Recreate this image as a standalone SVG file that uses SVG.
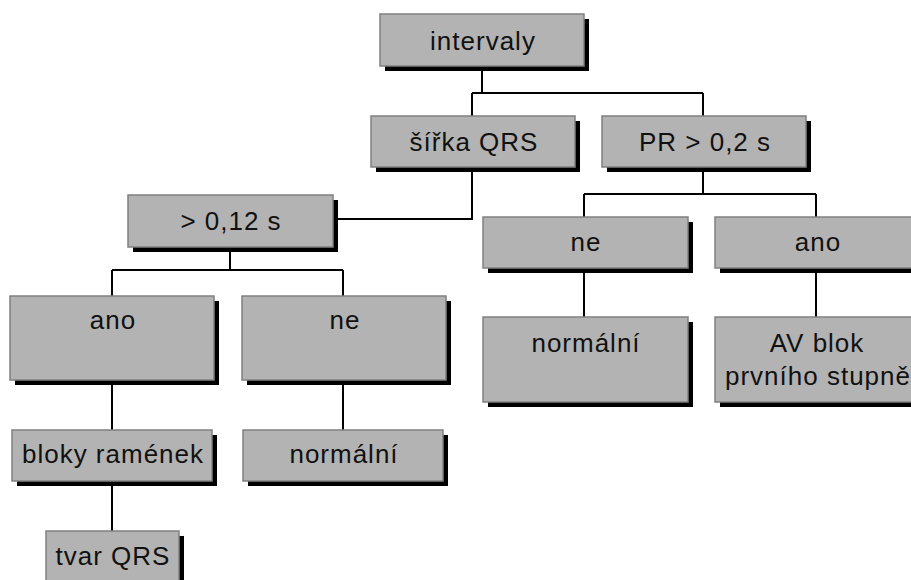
<svg xmlns="http://www.w3.org/2000/svg" width="911" height="580" viewBox="0 0 911 580">
<style>
.sh{fill:#000}
.bx{fill:#b3b3b3;stroke:#808080;stroke-width:1.5}
.t{font-family:"Liberation Sans",Arial,sans-serif;font-size:26px;letter-spacing:1px;fill:#111;text-anchor:middle}
.c{fill:none;stroke:#000;stroke-width:2}
</style>
<rect width="911" height="580" fill="#fff"/>
<g id="connectors">
<path class="c" d="M482 66V93M472 93H703M472 93V116M703 93V116"/>
<path class="c" d="M472 167V219H337"/>
<path class="c" d="M703 167V194M584 194H816M584 194V217M816 194V217"/>
<path class="c" d="M584 268V317M816 268V317"/>
<path class="c" d="M230 247V270M112 270H343M112 270V296M343 270V296"/>
<path class="c" d="M112 380V430M343 380V430M112 481V531"/>
</g>
<g id="n-intervaly"><rect class="sh" x="385" y="19" width="204" height="52"/><rect class="bx" x="380" y="14" width="204" height="52"/><text class="t" x="483" y="50">intervaly</text></g>
<g id="n-sirka"><rect class="sh" x="376" y="121" width="204" height="51"/><rect class="bx" x="371" y="116" width="204" height="51"/><text class="t" x="474" y="151">šířka QRS</text></g>
<g id="n-pr"><rect class="sh" x="607" y="121" width="204" height="51"/><rect class="bx" x="602" y="116" width="204" height="51"/><text class="t" x="705" y="151">PR &gt; 0,2 s</text></g>
<g id="n-012"><rect class="sh" x="133" y="200" width="205" height="52"/><rect class="bx" x="128" y="195" width="205" height="52"/><text class="t" x="231" y="230">&gt; 0,12 s</text></g>
<g id="n-ne-r"><rect class="sh" x="488" y="222" width="205" height="51"/><rect class="bx" x="483" y="217" width="205" height="51"/><text class="t" x="586" y="251">ne</text></g>
<g id="n-ano-r"><rect class="sh" x="720" y="222" width="205" height="51"/><rect class="bx" x="715" y="217" width="205" height="51"/><text class="t" x="818" y="251">ano</text></g>
<g id="n-ano-l"><rect class="sh" x="15" y="301" width="204" height="84"/><rect class="bx" x="10" y="296" width="204" height="84"/><text class="t" x="113" y="329">ano</text></g>
<g id="n-ne-l"><rect class="sh" x="247" y="301" width="204" height="84"/><rect class="bx" x="242" y="296" width="204" height="84"/><text class="t" x="345" y="329">ne</text></g>
<g id="n-normalni-r"><rect class="sh" x="488" y="322" width="205" height="85"/><rect class="bx" x="483" y="317" width="205" height="85"/><text class="t" x="586" y="352">normální</text></g>
<g id="n-av"><rect class="sh" x="720" y="322" width="205" height="85"/><rect class="bx" x="715" y="317" width="205" height="85"/><text class="t" x="817" y="352">AV blok</text><text class="t" x="818" y="385">prvního stupně</text></g>
<g id="n-bloky"><rect class="sh" x="17" y="435" width="200" height="51"/><rect class="bx" x="12" y="430" width="200" height="51"/><text class="t" x="113" y="463">bloky ramének</text></g>
<g id="n-normalni-l"><rect class="sh" x="248" y="435" width="200" height="51"/><rect class="bx" x="243" y="430" width="200" height="51"/><text class="t" x="344" y="463">normální</text></g>
<g id="n-tvar"><rect class="sh" x="51" y="536" width="133" height="60"/><rect class="bx" x="46" y="531" width="133" height="60"/><text class="t" x="113" y="565">tvar QRS</text></g>
</svg>
